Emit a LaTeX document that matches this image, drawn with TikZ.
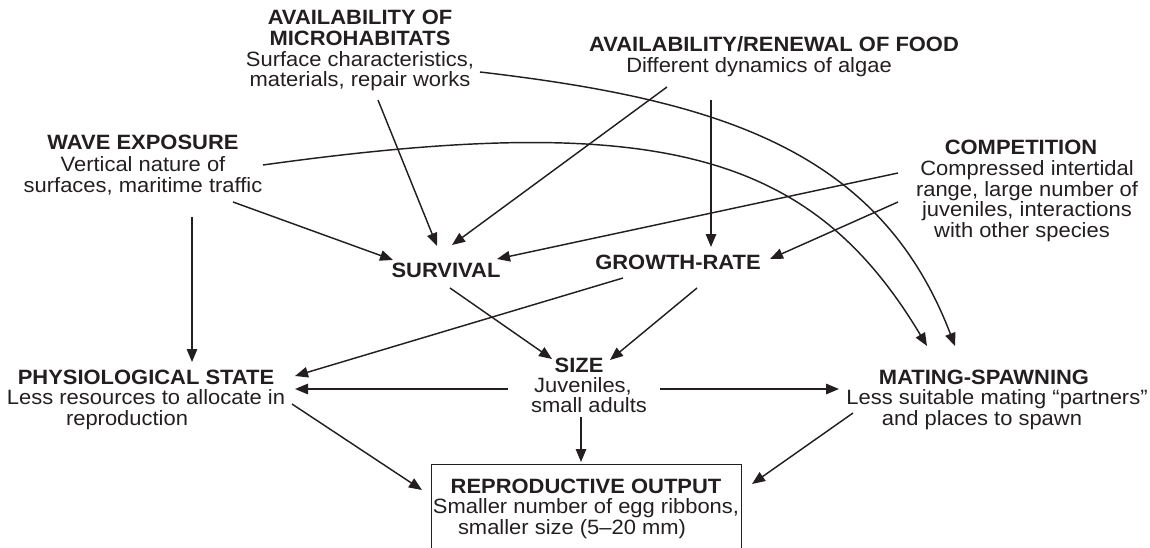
\documentclass[tikz,border=0pt]{standalone}
\usepackage{fontspec}
\setmainfont{Liberation Sans}[FakeStretch=1.06]
\usetikzlibrary{arrows.meta,calc}
\definecolor{ink}{HTML}{231F20}
\newcommand{\blk}[1]{\begin{tabular}[t]{@{}c@{}}#1\end{tabular}}
\begin{document}
\begin{tikzpicture}[x=1pt,y=-1pt,
  lbl/.style={inner sep=0pt, anchor=base, text=ink, font=\fontsize{20.7}{19.3}\selectfont},
  arr/.style={draw=ink, line width=1.45pt, -{Triangle[length=13pt,width=10.5pt]}}]
\useasboundingbox (0,0) rectangle (1150,548);
\clip (0,0) rectangle (1150,548);

\node[lbl, font=\fontsize{20.7}{21.5}\selectfont] (wave) at (143,150)
  {\blk{\textbf{WAVE EXPOSURE}\\Vertical nature of\\surfaces, maritime traffic}};
\node[lbl] (micro) at (360,25)
  {\blk{\textbf{AVAILABILITY OF}\\\textbf{MICROHABITATS}\\Surface characteristics,\\materials, repair works}};
\node[lbl, font=\fontsize{20.7}{19}\selectfont] (food) at (774,52)
  {\blk{\textbf{AVAILABILITY/RENEWAL OF FOOD}\\Different dynamics of algae\hspace*{30pt}}};
\node[lbl, font=\fontsize{20.7}{18.5}\selectfont] (comp) at (1027,155)
  {\blk{\textbf{COMPETITION}\hspace*{12pt}\\Compressed intertidal\\range, large number of\\juveniles, interactions\\with other species\hspace*{10pt}}};
\node[lbl] (surv) at (446,277) {\textbf{SURVIVAL}};
\node[lbl] (growth) at (678,269) {\textbf{GROWTH-RATE}};
\node[lbl, font=\fontsize{20.7}{18}\selectfont] (size) at (589,372)
  {\blk{\textbf{SIZE}\hspace*{20pt}\\Juveniles,\hspace*{12pt}\\small adults}};
\node[lbl, font=\fontsize{20.7}{19}\selectfont] (physio) at (146,384)
  {\blk{\textbf{PHYSIOLOGICAL STATE}\\Less resources to allocate in\\reproduction\hspace*{38pt}}};
\node[lbl, font=\fontsize{20.7}{19}\selectfont] (mating) at (997,384)
  {\blk{\textbf{MATING-SPAWNING}\hspace*{26pt}\\Less suitable mating “partners”\\and places to spawn\hspace*{30pt}}};
\node[lbl, font=\fontsize{20.7}{18.5}\selectfont, draw=ink, line width=0.9pt,
  inner xsep=0pt, inner ysep=14.5pt, minimum width=310pt] (repro) at (586,493)
  {\blk{\textbf{REPRODUCTIVE OUTPUT}\\Smaller number of egg ribbons,\\smaller size (5–20 mm)\hspace*{28pt}}};

\draw[arr] ($(wave.base)+(90,52)$) -- ($(surv.base)+(-53,-17)$);
\draw[arr] ($(micro.base)+(18,75)$) -- ($(surv.base)+(-9,-31)$);
\draw[arr] ($(food.base)+(-107,35)$) -- ($(surv.base)+(6,-32)$);
\draw[arr] ($(wave.base)+(49,67)$) -- ($(physio.base)+(46,-22)$);
\draw[arr] ($(wave.base)+(120,15)$) .. controls ($(wave.base)+(516,-40)$) and ($(mating.base)+(-186,-232)$) .. ($(mating.base)+(-70,-38)$);
\draw[arr] ($(micro.base)+(120,47)$) .. controls ($(micro.base)+(360,75)$) and ($(mating.base)+(-117,-234)$) .. ($(mating.base)+(-42,-38)$);
\draw[arr] ($(food.base)+(-63,48)$) -- ($(growth.base)+(33,-22)$);
\draw[arr] ($(comp.base)+(-129,18)$) -- ($(surv.base)+(51,-18)$);
\draw[arr] ($(comp.base)+(-129,47)$) -- ($(growth.base)+(92,-10)$);
\draw[arr] ($(growth.base)+(-55,9)$) -- ($(physio.base)+(149,-8)$);
\draw[arr] ($(surv.base)+(4,11)$) -- ($(size.base)+(-37,-13)$);
\draw[arr] ($(growth.base)+(19,19)$) -- ($(size.base)+(21,-12)$);
\draw[arr] ($(size.base)+(-81,17)$) -- ($(physio.base)+(149,5)$);
\draw[arr] ($(size.base)+(71,17)$) -- ($(mating.base)+(-158,5)$);
\draw[arr] ($(size.base)+(-8,45)$) -- ($(repro.base)+(-5,-31)$);
\draw[arr] ($(physio.base)+(146,20)$) -- ($(repro.base)+(-164,-3)$);
\draw[arr] ($(mating.base)+(-144,29)$) -- ($(repro.base)+(166,-9)$);
\end{tikzpicture}
\end{document}
